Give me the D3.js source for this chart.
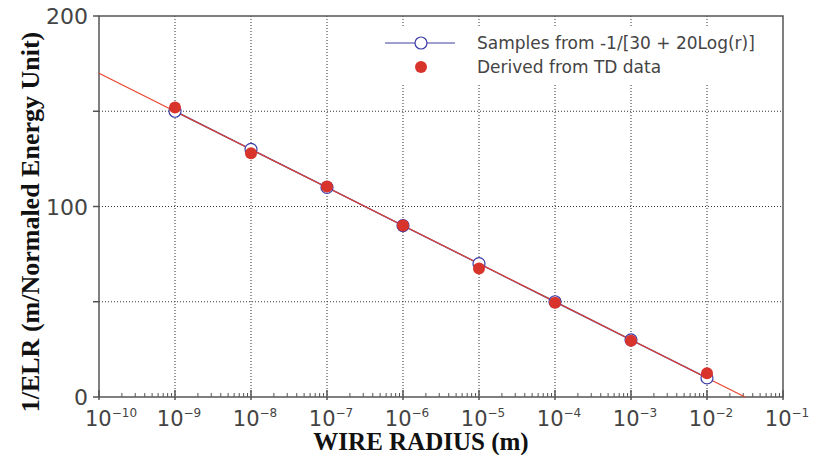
<!DOCTYPE html>
<html>
<head>
<meta charset="utf-8">
<script src="https://cdn.jsdelivr.net/npm/d3@7"></script>
<style>
  body { margin: 0; background: #fff; }
  .tick-label { font-family: "DejaVu Sans", sans-serif; fill: #444; }
  .title { font-family: "Liberation Serif", "DejaVu Serif", serif; font-weight: bold; fill: #111; }
</style>
</head>
<body>
<div id="chart"></div>
<script>
// data
var radii = [1e-9, 1e-8, 1e-7, 1e-6, 1e-5, 1e-4, 1e-3, 1e-2];
var sampleValues = [150, 130, 110, 90, 70, 50, 30, 10];
var tdValues = [152, 128, 110.5, 90, 67.5, 49.5, 29.5, 12.5];
var fitLine = [[1e-10, 170], [Math.pow(10, -1.5), 0]];
var xTicks = [-10, -9, -8, -7, -6, -5, -4, -3, -2, -1];
var yTicks = [0, 50, 100, 150, 200];
var yLabels = [0, 100, 200];
var legendLabels = ["Samples from -1/[30 + 20Log(r)]", "Derived from TD data"];

var width = 813, height = 455;
var margin = { top: 16, right: 30, bottom: 58, left: 99 };

var svg = d3.select('#chart').append('svg')
        .attr('width', width)
        .attr('height', height);

var x = d3.scaleLog().domain([1e-10, 1e-1]).range([margin.left, width - margin.right]);
var y = d3.scaleLinear().domain([0, 200]).range([height - margin.bottom, margin.top]);

// grid lines
svg.append('g').selectAll('line')
        .data(xTicks.slice(1, -1))
        .enter().append('line')
        .attr('x1', function (d) { return x(Math.pow(10, d)); })
        .attr('x2', function (d) { return x(Math.pow(10, d)); })
        .attr('y1', y(200)).attr('y2', y(0))
        .attr('stroke', '#333').attr('stroke-width', 1)
        .attr('stroke-dasharray', '1,2');
svg.append('g').selectAll('line')
        .data([50, 100, 150])
        .enter().append('line')
        .attr('x1', x(1e-10)).attr('x2', x(1e-1))
        .attr('y1', function (d) { return y(d); })
        .attr('y2', function (d) { return y(d); })
        .attr('stroke', '#333').attr('stroke-width', 1)
        .attr('stroke-dasharray', '1,2');

// frame
svg.append('rect')
        .attr('x', x(1e-10)).attr('y', y(200))
        .attr('width', x(1e-1) - x(1e-10)).attr('height', y(0) - y(200))
        .attr('fill', 'none').attr('stroke', '#555').attr('stroke-width', 1.5);

// x axis minor ticks (inside)
var minor = [];
for (var e = -10; e < -1; e++) {
        for (var k = 2; k <= 9; k++) minor.push(k * Math.pow(10, e));
}
svg.append('g').selectAll('line')
        .data(minor)
        .enter().append('line')
        .attr('x1', function (d) { return x(d); })
        .attr('x2', function (d) { return x(d); })
        .attr('y1', y(0)).attr('y2', y(0) - 4)
        .attr('stroke', '#555').attr('stroke-width', 1);
svg.append('g').selectAll('line')
        .data(xTicks)
        .enter().append('line')
        .attr('x1', function (d) { return x(Math.pow(10, d)); })
        .attr('x2', function (d) { return x(Math.pow(10, d)); })
        .attr('y1', y(0) + 3).attr('y2', y(0) - 7)
        .attr('stroke', '#555').attr('stroke-width', 1.5);

// y ticks (outside)
svg.append('g').selectAll('line')
        .data(yTicks)
        .enter().append('line')
        .attr('x1', x(1e-10) - 6).attr('x2', x(1e-10))
        .attr('y1', function (d) { return y(d); })
        .attr('y2', function (d) { return y(d); })
        .attr('stroke', '#555').attr('stroke-width', 1.5);

// y tick labels
svg.append('g').selectAll('text')
        .data(yLabels)
        .enter().append('text')
        .attr('class', 'tick-label')
        .attr('x', x(1e-10) - 11)
        .attr('y', function (d) { return y(d) + 8; })
        .attr('text-anchor', 'end')
        .attr('font-size', 22)
        .text(function (d) { return d; });

// x tick labels 10^n
var xl = svg.append('g').selectAll('text')
        .data(xTicks)
        .enter().append('text')
        .attr('class', 'tick-label')
        .attr('x', function (d) { return x(Math.pow(10, d)) + (d <= -10 ? 12 : 4); })
        .attr('y', 426)
        .attr('text-anchor', 'middle')
        .attr('font-size', 21);
xl.append('tspan').text('10');
xl.append('tspan')
        .attr('dy', -9)
        .attr('font-size', 12)
        .text(function (d) { return '\u2212' + (-d); });

var line = d3.line()
        .x(function (d) { return x(d[0]); })
        .y(function (d) { return y(d[1]); });

// samples line (blue)
var samples = radii.map(function (r, i) { return [r, sampleValues[i]]; });
svg.append('path')
        .datum(samples)
        .attr('d', line)
        .attr('fill', 'none')
        .attr('stroke', '#4040a0')
        .attr('stroke-width', 1.4);

// fit line (red)
svg.append('path')
        .datum(fitLine)
        .attr('d', line)
        .attr('fill', 'none')
        .attr('stroke', '#e8402a')
        .attr('stroke-width', 1.1);

svg.append('g').selectAll('circle')
        .data(samples)
        .enter().append('circle')
        .attr('cx', function (d) { return x(d[0]); })
        .attr('cy', function (d) { return y(d[1]); })
        .attr('r', 6)
        .attr('fill', '#fff')
        .attr('stroke', '#3a3aa8')
        .attr('stroke-width', 1.2);

// TD data (red dots)
svg.append('g').selectAll('circle')
        .data(radii.map(function (r, i) { return [r, tdValues[i]]; }))
        .enter().append('circle')
        .attr('cx', function (d) { return x(d[0]); })
        .attr('cy', function (d) { return y(d[1]); })
        .attr('r', 6)
        .attr('fill', '#d9342b');

// legend
var lg = svg.append('g');
lg.append('rect')
        .attr('x', 375).attr('y', 27)
        .attr('width', 404).attr('height', 56)
        .attr('fill', '#fff');
lg.append('line')
        .attr('x1', 385).attr('x2', 455)
        .attr('y1', 43).attr('y2', 43)
        .attr('stroke', '#4040a0').attr('stroke-width', 1.2);
lg.append('circle')
        .attr('cx', 421).attr('cy', 43).attr('r', 6)
        .attr('fill', '#fff').attr('stroke', '#3a3aa8').attr('stroke-width', 1.2);
lg.append('circle')
        .attr('cx', 421).attr('cy', 67).attr('r', 6)
        .attr('fill', '#d9342b');
lg.selectAll('text.leg')
        .data(legendLabels)
        .enter().append('text')
        .attr('class', 'tick-label')
        .attr('x', 477)
        .attr('y', function (d, i) { return 49 + i * 24; })
        .attr('font-size', 17)
        .attr('fill', '#333')
        .text(function (d) { return d; });

// axis titles
svg.append('text')
        .attr('class', 'title')
        .attr('x', 421).attr('y', 450)
        .attr('text-anchor', 'middle')
        .attr('font-size', 25)
        .text('WIRE RADIUS (m)');
svg.append('text')
        .attr('class', 'title')
        .attr('transform', 'translate(39,222) rotate(-90)')
        .attr('text-anchor', 'middle')
        .attr('font-size', 26)
        .text('1/ELR (m/Normaled Energy Unit)');
</script>
</body>
</html>
